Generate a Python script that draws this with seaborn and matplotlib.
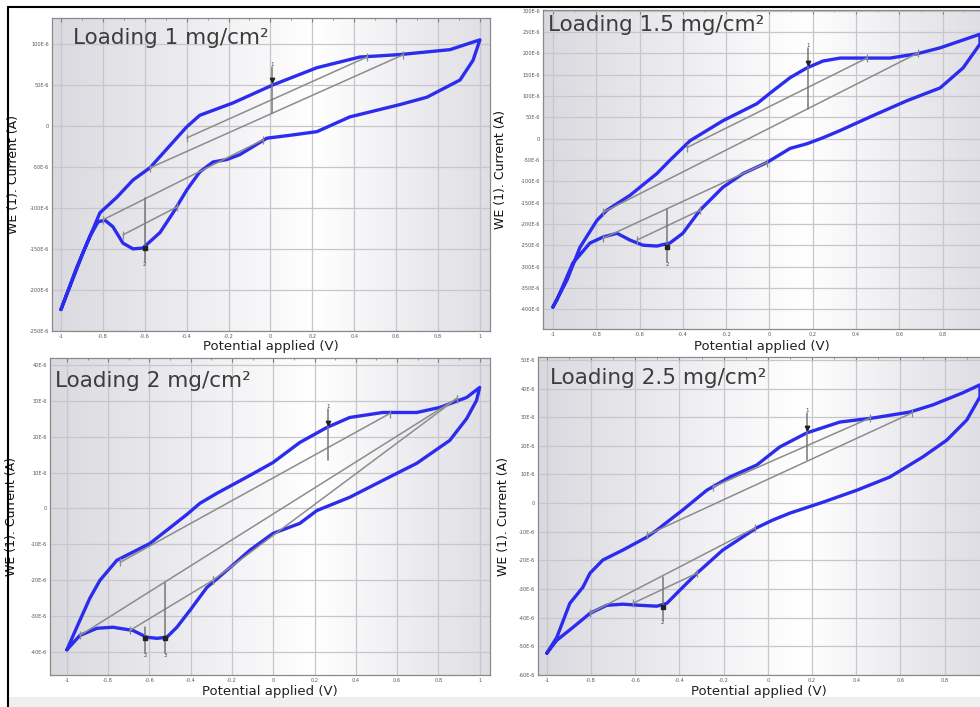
import numpy as np
import matplotlib
matplotlib.use("Agg")
import matplotlib.pyplot as plt
import seaborn as sns
from matplotlib.colors import LinearSegmentedColormap
from matplotlib.lines import Line2D
from matplotlib.patches import Rectangle
from matplotlib.ticker import MultipleLocator, FuncFormatter

sns.set_style("white")
plt.rcParams["font.family"] = ["DejaVu Sans"]

# ---- data (potential in V, current in 1E-6 A) ----
titles = ["Loading 1 mg/cm²", "Loading 1.5 mg/cm²", "Loading 2 mg/cm²", "Loading 2.5 mg/cm²"]

p1_fwd_v = [-1.0, -0.895, -0.814, -0.733, -0.656, -0.575, -0.399, -0.337, -0.179, 0.012, 0.222, 0.427, 0.618, 0.857, 1.0]
p1_fwd_i = [-224, -155, -106, -87, -66, -51, -1, 13, 28, 50, 71, 84, 87, 93, 105]
p1_rev_v = [1.0, 0.967, 0.905, 0.747, 0.618, 0.379, 0.222, 0.107, -0.017, -0.146, -0.208, -0.274, -0.337,
            -0.399, -0.465, -0.527, -0.609, -0.656, -0.704, -0.752, -0.79, -0.823, -0.862, -0.924, -1.0]
p1_rev_i = [105, 80, 56, 35, 26, 11, -7, -11, -15, -35, -41, -44, -56,
            -78, -106, -130, -149, -150, -143, -123, -115, -117, -135, -172, -224]

p2_fwd_v = [-1.0, -0.935, -0.875, -0.797, -0.751, -0.644, -0.52, -0.46, -0.367, -0.215, -0.058, 0.016,
            0.095, 0.173, 0.247, 0.326, 0.557, 0.681, 0.788, 0.972]
p2_fwd_i = [-395, -332, -255, -192, -168, -133, -82, -51, -5, 42, 82, 112, 143, 166, 182, 189, 189, 199, 213, 245]
p2_rev_v = [0.972, 0.894, 0.788, 0.635, 0.478, 0.326, 0.247, 0.173, 0.095, -0.012, -0.122, -0.215,
            -0.321, -0.4, -0.46, -0.52, -0.584, -0.644, -0.704, -0.769, -0.829, -0.908, -0.982, -1.0]
p2_rev_i = [222, 166, 119, 89, 54, 19, 2, -12, -23, -56, -82, -114,
            -168, -222, -245, -252, -250, -238, -222, -231, -245, -292, -379, -395]

p3_fwd_v = [-1.0, -0.952, -0.889, -0.84, -0.758, -0.598, -0.516, -0.419, -0.356, -0.274, -0.114, -0.002,
            0.128, 0.259, 0.37, 0.53, 0.695, 0.806, 0.937, 1.0]
p3_fwd_i = [-39.5, -33.2, -25.1, -20.1, -14.5, -9.8, -6.1, -1.7, 1.4, 4.2, 9.2, 12.8,
            18.4, 22.6, 25.4, 26.8, 26.8, 28.2, 31.0, 33.8]
p3_rev_v = [1.0, 0.985, 0.937, 0.855, 0.695, 0.53, 0.37, 0.211, 0.128, -0.002, -0.114, -0.225,
            -0.322, -0.404, -0.467, -0.516, -0.564, -0.613, -0.68, -0.777, -0.855, -0.937, -1.0]
p3_rev_i = [33.8, 30.2, 25.1, 19.0, 12.6, 7.8, 3.1, -0.6, -4.2, -7.0, -11.7, -17.3,
            -22.1, -28.5, -33.2, -36.0, -36.3, -36.0, -34.1, -33.2, -33.5, -35.5, -39.5]

p4_fwd_v = [-1.0, -0.955, -0.896, -0.837, -0.805, -0.747, -0.656, -0.548, -0.502, -0.385, -0.276, -0.172,
            -0.05, 0.054, 0.176, 0.326, 0.475, 0.643, 0.747, 0.882, 0.96]
p4_fwd_i = [-52.4, -46.9, -35, -29.4, -24.5, -19.9, -16.4, -11.9, -9.4, -2.4, 4.5, 9.1,
            13.3, 19.6, 24.5, 28.3, 29.7, 31.8, 34.3, 38.5, 41.3]
p4_rev_v = [0.96, 0.9, 0.81, 0.701, 0.552, 0.403, 0.249, 0.1, 0.023, -0.05, -0.204, -0.321,
            -0.398, -0.457, -0.502, -0.579, -0.656, -0.729, -0.805, -0.882, -0.955, -1.0]
p4_rev_i = [37.1, 29.0, 22.0, 16.1, 9.1, 4.5, 0.3, -3.5, -5.9, -8.6, -16.4, -24.5,
            -30.4, -35.0, -36.0, -35.7, -35.3, -35.7, -38.5, -43.4, -47.9, -52.4]

# peak baselines: (v0, i0, v1, i1)
p1_base = [(-0.399, -14.6, 0.461, 84.1), (-0.575, -51.2, 0.632, 86.6),
           (-0.8, -114.6, -0.036, -17.1), (-0.704, -132.9, -0.446, -98.8)]
p2_base = [(-0.381, -21, 0.45, 189), (-0.769, -173, 0.686, 201),
           (-0.769, -234, -0.012, -56), (-0.612, -238, -0.321, -168)]
p3_base = [(-0.743, -15.1, 0.564, 26.5), (-0.937, -35.5, 0.889, 30.7),
           (-0.293, -20.1, 0.889, 30.7), (-0.695, -34.1, -0.293, -20.1)]
p4_base = [(-0.249, 5.6, 0.462, 29.7), (-0.548, -11.2, 0.652, 31.5),
           (-0.805, -38.5, -0.059, -8.7), (-0.611, -35, -0.321, -24.5)]

# peak markers: (potential, baseline current, end current, peak current, label)
p1_peaks = [(0.007, 15.9, 72, 56, "1"), (-0.6, -87.8, -166, -149, "2")]
p2_peaks = [(0.178, 70, 213, 178, "1"), (-0.473, -166, -290, -255, "2")]
p3_peaks = [(0.264, 13.4, 27.9, 24.0, "1"), (-0.622, -33.0, -40.5, -36.3, "2"), (-0.525, -20.9, -40.5, -36.3, "3")]
p4_peaks = [(0.176, 15.0, 31.5, 26.2, "1"), (-0.475, -25.9, -40.9, -36.4, "2")]

# axis ranges
p_xlim = [(-1.043, 1.048), (-1.046, 0.972), (-1.082, 1.05), (-1.04, 0.96)]
p_ylim = [(-250, 132), (-446, 302), (-46.6, 41.9), (-60.1, 51.0)]
p_ystep = [50, 50, 10, 10]

# ---- layout (figure fractions) ----
rects = [[0.053, 0.532, 0.447, 0.443], [0.554, 0.535, 0.446, 0.451],
         [0.051, 0.045, 0.449, 0.448], [0.549, 0.045, 0.451, 0.450]]
title_pos = [(0.048, 0.936), (0.011, 0.953), (0.011, 0.93), (0.027, 0.934)]
ylab_x = [-0.073, -0.082, -0.073, -0.063]
xlab_y = [-0.03, -0.036, -0.031, -0.031]

panels = [
    (p1_fwd_v, p1_fwd_i, p1_rev_v, p1_rev_i, p1_base, p1_peaks),
    (p2_fwd_v, p2_fwd_i, p2_rev_v, p2_rev_i, p2_base, p2_peaks),
    (p3_fwd_v, p3_fwd_i, p3_rev_v, p3_rev_i, p3_base, p3_peaks),
    (p4_fwd_v, p4_fwd_i, p4_rev_v, p4_rev_i, p4_base, p4_peaks),
]

bg_cmap = LinearSegmentedColormap.from_list(
    "bg", [(0, "#d9d9df"), (0.3, "#ececf0"), (0.6, "#ffffff"), (1, "#dedee4")])

fig = plt.figure(figsize=(9.8, 7.07), dpi=100)
fig.patch.set_facecolor("white")

for k, (fv, fi, rv, ri, base, peaks) in enumerate(panels):
    ax = fig.add_axes(rects[k])
    ax.imshow(np.linspace(0, 1, 256)[None, :], cmap=bg_cmap, aspect="auto",
              extent=[0, 1, 0, 1], transform=ax.transAxes, zorder=0)
    ax.set_xlim(*p_xlim[k])
    ax.set_ylim(*p_ylim[k])

    ax.xaxis.set_major_locator(MultipleLocator(0.2))
    ax.xaxis.set_minor_locator(MultipleLocator(0.1))
    ax.yaxis.set_major_locator(MultipleLocator(p_ystep[k]))
    ax.yaxis.set_minor_locator(MultipleLocator(p_ystep[k] / 5))
    ax.xaxis.set_major_formatter(FuncFormatter(lambda v, _: "0" if abs(v) < 1e-9 else f"{v:g}"))
    ax.yaxis.set_major_formatter(FuncFormatter(lambda v, _: "0" if abs(v) < 1e-9 else f"{v:g}E-6"))
    ax.grid(True, which="major", color="#c6c6cb", lw=0.9, zorder=1)
    ax.tick_params(which="both", direction="in", top=True, color="#808080",
                   labelsize=3.6, labelcolor="#555555", pad=2)
    ax.tick_params(which="major", length=3)
    ax.tick_params(which="minor", length=1.5)
    for s in ax.spines.values():
        s.set_color("#8a8a8a")
        s.set_linewidth(0.9)
    if k in (1, 3):
        ax.spines["right"].set_visible(False)

    # CV loop
    loop_v = list(fv) + list(rv)
    loop_i = list(fi) + list(ri)
    sns.lineplot(x=loop_v, y=loop_i, sort=False, estimator=None, ax=ax,
                 color="#2c2cee", lw=2.4, zorder=3)

    # peak baselines
    for v0, i0, v1, i1 in base:
        ax.plot([v0, v1], [i0, i1], color="#8c8c8c", lw=1.1, zorder=4,
                marker="|", ms=6, mew=0.9)
    # peak markers
    for pv, ib, ie, ip, lab in peaks:
        ax.plot([pv, pv], [ib, ie], color="#777777", lw=1.1, zorder=4)
        up = ie > ib
        ax.plot([pv], [ip], marker="v" if up else "s", ms=3.2, color="#222222", zorder=5)
        ax.text(pv, ie, lab, fontsize=4, color="#444444", ha="center",
                va="bottom" if up else "top", zorder=5)

    ax.text(*title_pos[k], titles[k], transform=ax.transAxes, fontsize=15.5,
            color="#3c3c3c", va="center", ha="left", zorder=6)
    ax.set_ylabel("WE (1). Current (A)", fontsize=9, color="#111111")
    ax.yaxis.set_label_coords(ylab_x[k], 0.5)
    ax.set_xlabel("Potential applied (V)", fontsize=9.5, color="#222222")
    ax.xaxis.set_label_coords(0.5, xlab_y[k])

# screenshot frame
fig.add_artist(Line2D([0.0082, 1.0], [0.990, 0.990], color="black", lw=1.5))
fig.add_artist(Line2D([0.0082, 0.0082], [0.0, 0.990], color="black", lw=1.5))
fig.add_artist(Rectangle((0.0082, 0.0), 0.992, 0.014, facecolor="#efefef", edgecolor="none", zorder=-1))

fig.savefig("out.png", dpi=100)
